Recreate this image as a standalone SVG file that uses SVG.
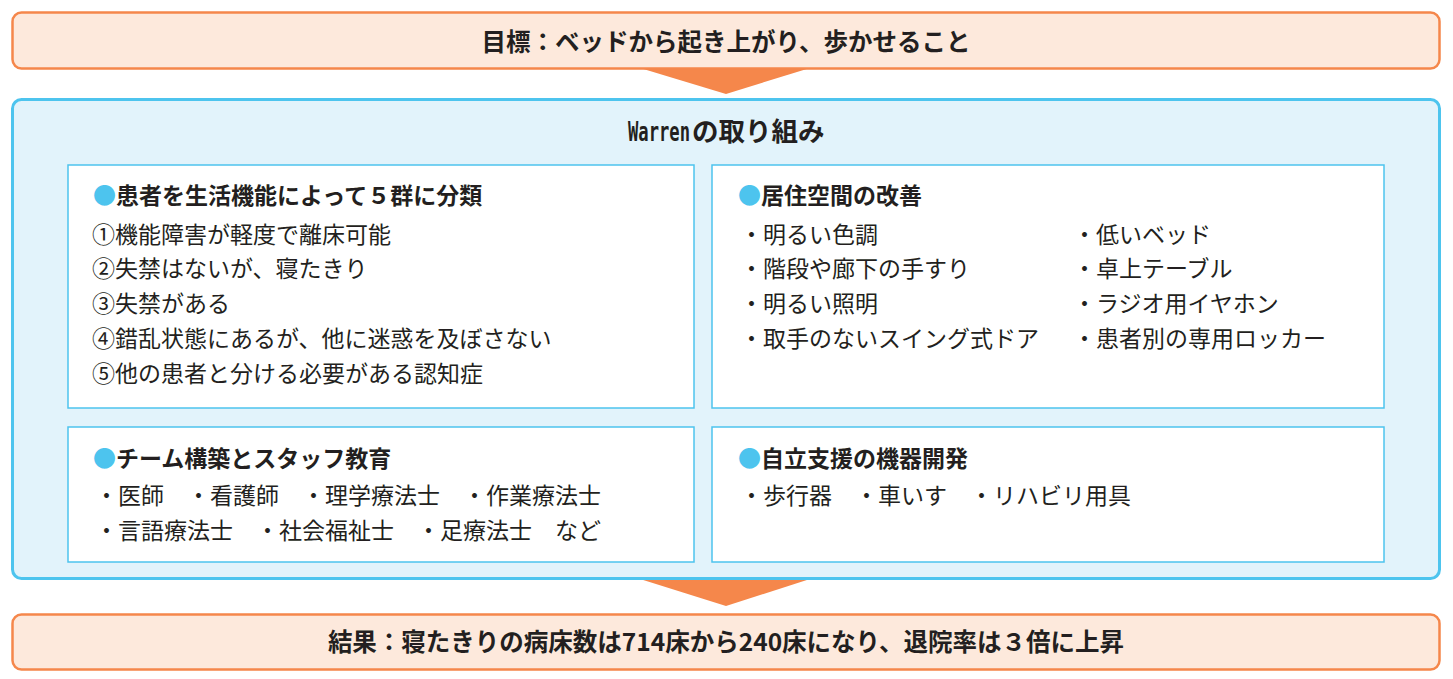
<svg xmlns="http://www.w3.org/2000/svg" width="1453" height="679" viewBox="0 0 1453 679">
<style>
text{font-family:"Noto Sans CJK JP","Noto Sans",sans-serif;fill:#231F20}
.or{fill:#FDE9DC;stroke:#F5874B;stroke-width:2.5}
.bl{fill:#E2F3FB;stroke:#4DC4EE;stroke-width:3}
.in{fill:#FFFFFF;stroke:#4DC4EE;stroke-width:1.5}
.arr{fill:#F5874B}
.h{font-size:23px;font-weight:bold}
.t{font-size:23px}
.big{font-size:24.5px;font-weight:bold}
.wt{font-size:26.5px;font-weight:bold}
.mono{font-family:"DejaVu Sans Mono","Liberation Mono",monospace;font-size:26px;font-weight:bold}
.dot{fill:#4DC4EE}
</style>
<rect width="1453" height="679" fill="#FFFFFF"/>
<g id="connectors">
<polygon class="arr" points="640,68 810,68 726,94"/>
<polygon class="arr" points="640,579 810,579 726,606"/>
</g>
<g id="goal">
<rect class="or" x="12.5" y="12.5" width="1427" height="56" rx="9"/>
<text class="big" x="726" y="51" text-anchor="middle">目標：ベッドから起き上がり、歩かせること</text>
</g>
<g id="warren">
<rect class="bl" x="12.5" y="99.5" width="1427" height="479" rx="9"/>
<text class="mono" transform="translate(628,141) scale(0.66,1)" x="0" y="0">Warren</text>
<text class="wt" x="692" y="141">の取り組み</text>
</g>
<g id="classify">
<rect class="in" x="68" y="165" width="626" height="243"/>
<text class="h" x="93" y="204"><tspan class="dot">●</tspan>患者を生活機能によって５群に分類</text>
<text class="t" x="92" y="242.5">①機能障害が軽度で離床可能</text>
<text class="t" x="92" y="277">②失禁はないが、寝たきり</text>
<text class="t" x="92" y="311.5">③失禁がある</text>
<text class="t" x="92" y="346.5">④錯乱状態にあるが、他に迷惑を及ぼさない</text>
<text class="t" x="92" y="381.5">⑤他の患者と分ける必要がある認知症</text>
</g>
<g id="living">
<rect class="in" x="712" y="165" width="672" height="243"/>
<text class="h" x="738" y="204"><tspan class="dot">●</tspan>居住空間の改善</text>
<text class="t" x="740" y="242.5">・明るい色調</text>
<text class="t" x="740" y="277">・階段や廊下の手すり</text>
<text class="t" x="740" y="311.5">・明るい照明</text>
<text class="t" x="740" y="346.5">・取手のないスイング式ドア</text>
<text class="t" x="1073" y="242.5">・低いベッド</text>
<text class="t" x="1073" y="277">・卓上テーブル</text>
<text class="t" x="1073" y="311.5">・ラジオ用イヤホン</text>
<text class="t" x="1073" y="346.5">・患者別の専用ロッカー</text>
</g>
<g id="team">
<rect class="in" x="68" y="427" width="626" height="135"/>
<text class="h" x="93" y="466.5"><tspan class="dot">●</tspan>チーム構築とスタッフ教育</text>
<text class="t" x="95" y="504">・医師　・看護師　・理学療法士　・作業療法士</text>
<text class="t" x="95" y="538.5">・言語療法士　・社会福祉士　・足療法士　など</text>
</g>
<g id="devices">
<rect class="in" x="712" y="427" width="672" height="135"/>
<text class="h" x="738" y="466.5"><tspan class="dot">●</tspan>自立支援の機器開発</text>
<text class="t" x="740" y="504">・歩行器　・車いす　・リハビリ用具</text>
</g>
<g id="result">
<rect class="or" x="12.5" y="614.5" width="1427" height="55" rx="9"/>
<text class="big" x="726" y="651" text-anchor="middle">結果：寝たきりの病床数は714床から240床になり、退院率は３倍に上昇</text>
</g>
</svg>
